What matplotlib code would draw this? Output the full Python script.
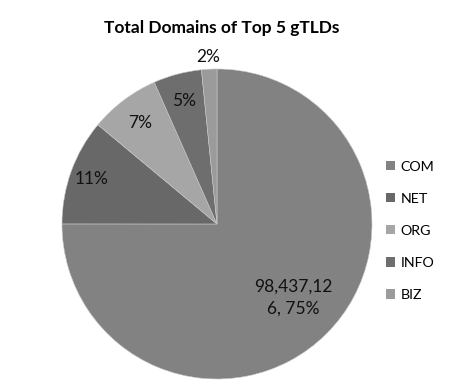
import numpy as np
import matplotlib.pyplot as plt

# data
tlds = ["COM", "NET", "ORG", "INFO", "BIZ"]
domains = [98437126, 14500000, 9600000, 6600000, 2100000]
colors = ["#828282", "#686868", "#a6a6a6", "#6e6e6e", "#9b9b9b"]
label_r = [0.70, 0.86, 0.82, 0.82, 1.08]

plt.rcParams['font.family'] = ['Lato', 'DejaVu Sans']

fig = plt.figure(figsize=(4.52, 3.91), dpi=100)
ax = fig.add_axes([62 / 452, 12 / 391, 310 / 452, 310 / 391])

wedges, _ = ax.pie(domains, colors=colors, startangle=90, counterclock=False,
                   wedgeprops=dict(edgecolor="#c8c8c8", linewidth=0.4))
ax.set_xlim(-1, 1)
ax.set_ylim(-1, 1)
ax.set_aspect("equal")

total = sum(domains)
for w, v, r, name in zip(wedges, domains, label_r, tlds):
    mid = np.deg2rad((w.theta1 + w.theta2) / 2)
    pct = round(v / total * 100)
    if name == "COM":
        s = f"{v:,}"
        s = s[:9] + "\n" + s[9:] + f", {pct}%"
    else:
        s = f"{pct}%"
    ax.text(r * np.cos(mid), r * np.sin(mid) + (0.02 if name == "COM" else 0), s,
            ha="center", va="center", fontsize=12.5, color="#111111", linespacing=1.4)

fig.text(222 / 452, 1 - 28 / 391, "Total Domains of Top 5 gTLDs",
         ha="center", va="center", fontsize=12.5, fontweight="bold")

fig.legend(wedges, tlds, loc="center left", bbox_to_anchor=(386 / 452, 1 - 231 / 391),
           frameon=False, fontsize=10.3, labelspacing=1.4, handlelength=0.6,
           handleheight=0.6, handletextpad=0.4, borderpad=0, borderaxespad=0)
for h in fig.legends[0].legend_handles:
    h.set_edgecolor("none")

fig.savefig("out.png", dpi=100)
